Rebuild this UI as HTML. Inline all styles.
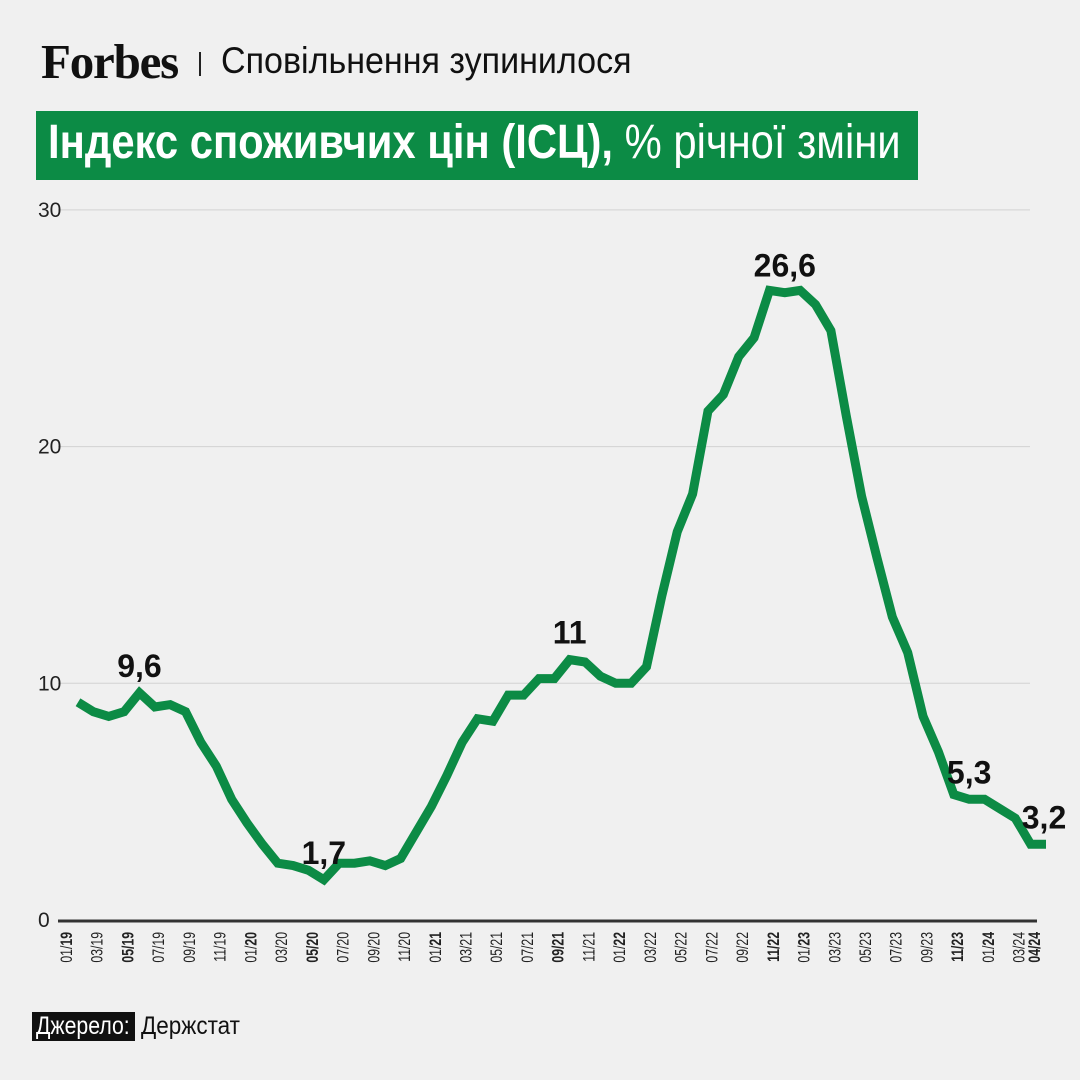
<!DOCTYPE html>
<html><head><meta charset="utf-8">
<style>
body{margin:0;background:#f0f0f0;}
#wrap{position:relative;width:1080px;height:1080px;background:#f0f0f0;overflow:hidden;font-family:"Liberation Sans Narrow","Liberation Sans",sans-serif;}
.narrow{display:inline-block;transform-origin:0 50%;}
</style></head><body>
<div id="wrap">
<div style="position:absolute;left:41px;top:33px;font-family:'Liberation Serif',serif;font-weight:bold;font-size:49px;letter-spacing:-1.2px;color:#111;">Forbes</div>
<div style="position:absolute;left:199px;top:52px;width:2px;height:24px;background:#222;"></div>
<div style="position:absolute;left:221px;top:40px;font-size:37px;color:#111;white-space:nowrap;"><span class="narrow" style="transform:scaleX(0.92)">Сповільнення зупинилося</span></div>
<div style="position:absolute;left:36px;top:111px;width:882px;height:69px;background:#0c8b45;"></div>
<div style="position:absolute;left:48px;top:115px;font-size:48px;color:#fff;white-space:nowrap;"><span class="narrow" style="transform:scaleX(0.87)"><b>Індекс споживчих цін (ІСЦ),</b> % річної зміни</span></div>
<svg id="chart" width="1080" height="1080" style="position:absolute;left:0;top:0"></svg>
<div style="position:absolute;left:32px;top:1012px;height:29px;width:103px;background:#111;color:#fff;font-size:25px;line-height:29px;white-space:nowrap;"><span class="narrow" style="transform:scaleX(0.85);margin-left:4px">Джерело:</span></div>
<div style="position:absolute;left:141px;top:1012px;font-size:25px;line-height:29px;color:#111;white-space:nowrap;"><span class="narrow" style="transform:scaleX(0.9)">Держстат</span></div>
</div>
<script>
const values=[9.2,8.8,8.6,8.8,9.6,9.0,9.1,8.8,7.5,6.5,5.1,4.1,3.2,2.4,2.3,2.1,1.7,2.4,2.4,2.5,2.3,2.6,3.7,4.8,6.1,7.5,8.5,8.4,9.5,9.5,10.2,10.2,11.0,10.9,10.3,10.0,10.0,10.7,13.7,16.4,18.0,21.5,22.2,23.8,24.6,26.6,26.5,26.6,26.0,24.9,21.3,17.9,15.3,12.8,11.3,8.6,7.1,5.3,5.1,5.1,4.7,4.3,3.2,3.2];
const yTicks=[0,10,20,30];
const tickLabels=[["01/","19",1],["03/19","",0],["05/19","",2],["07/19","",0],["09/19","",0],["11/19","",0],["01/","20",1],["03/20","",0],["05/20","",2],["07/20","",0],["09/20","",0],["11/20","",0],["01/","21",1],["03/21","",0],["05/21","",0],["07/21","",0],["09/21","",2],["11/21","",0],["01/","22",1],["03/22","",0],["05/22","",0],["07/22","",0],["09/22","",0],["11/22","",2],["01/","23",1],["03/23","",0],["05/23","",0],["07/23","",0],["09/23","",0],["11/23","",2],["01/","24",1],["03/24","",0],["04/24","",2]];
const tickIdx=[0,2,4,6,8,10,12,14,16,18,20,22,24,26,28,30,32,34,36,38,40,42,44,46,48,50,52,54,56,58,60,62,63];
const annIdx=[4,16,32,46,58,63];
const annText=["9,6","1,7","11","26,6","5,3","3,2"];
const NS="http://www.w3.org/2000/svg";
const svg=document.getElementById('chart');
const x=i=>78+i*(1046-78)/63;
const y=v=>920-v*23.67;
function mk(t,a){const e=document.createElementNS(NS,t);for(const k in a)e.setAttribute(k,a[k]);svg.appendChild(e);return e;}
yTicks.forEach(t=>{
  if(t>0){const g=mk('line',{x1:58,x2:1030,y1:y(t),y2:y(t),stroke:'#d2d2d2','stroke-width':1});
  
  }
  const l=mk('text',{x:38,y:y(t)+7,'font-size':21,fill:'#222','font-family':'Liberation Sans Narrow, Liberation Sans, sans-serif'});
  l.textContent=t;
  
  
});
const ax=mk('line',{x1:58,x2:1037,y1:921,y2:921,stroke:'#333','stroke-width':3});


tickIdx.forEach((idx,k)=>{
  const [a,b,bold]=tickLabels[k];
  const px=x(idx)-12;
  const t=mk('text',{transform:`translate(${px+6},932) rotate(-90) scale(0.72,1)`,'text-anchor':'end','font-size':17,fill:'#222','font-family':'Liberation Sans, sans-serif','font-weight':bold===2?'bold':'normal'});
  
  
  if(bold===1){t.textContent=a;const s=document.createElementNS(NS,'tspan');s.setAttribute('font-weight','bold');s.textContent=b;t.appendChild(s);}
  else t.textContent=a;
});
const p=mk('polyline',{points:values.map((v,i)=>x(i)+','+y(v)).join(' '),fill:'none',stroke:'#0c8b45','stroke-width':9,'stroke-linejoin':'miter'});


annIdx.forEach((idx,k)=>{
  const t=mk('text',{x:x(idx),y:y(values[idx])-16,'text-anchor':'middle','font-size':32,'font-weight':'bold',fill:'#111','font-family':'Liberation Sans Narrow, Liberation Sans, sans-serif'});
  if(idx===63)t.setAttribute('x',x(idx)-2);
  t.textContent=annText[k];
  
  
});
</script>
</body></html>
